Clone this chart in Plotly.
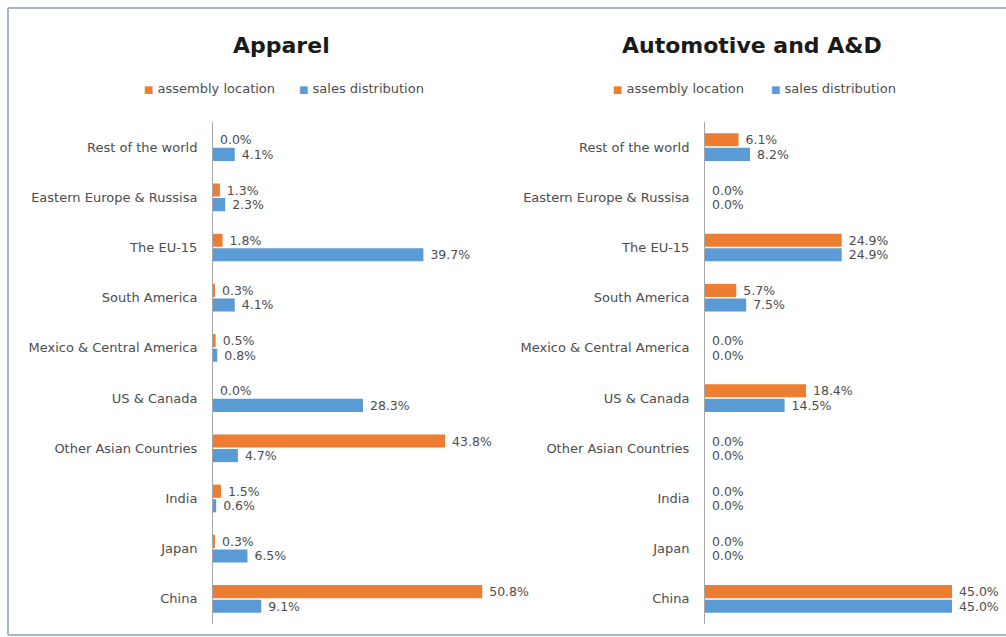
import plotly.graph_objects as go

# Regions, listed top to bottom
regions = [
    "Rest of the world",
    "Eastern Europe & Russisa",
    "The EU-15",
    "South America",
    "Mexico & Central America",
    "US & Canada",
    "Other Asian Countries",
    "India",
    "Japan",
    "China",
]

# Apparel (%)
apparel_assembly = [0.0, 1.3, 1.8, 0.3, 0.5, 0.0, 43.8, 1.5, 0.3, 50.8]
apparel_sales = [4.1, 2.3, 39.7, 4.1, 0.8, 28.3, 4.7, 0.6, 6.5, 9.1]

# Automotive and A&D (%)
auto_assembly = [6.1, 0.0, 24.9, 5.7, 0.0, 18.4, 0.0, 0.0, 0.0, 45.0]
auto_sales = [8.2, 0.0, 24.9, 7.5, 0.0, 14.5, 0.0, 0.0, 0.0, 45.0]

panel_titles = ["Apparel", "Automotive and A&D"]
series_names = ["assembly location", "sales distribution"]

ORANGE = "#ED7D31"
BLUE = "#5B9BD5"
TEXT = "#4d4d4d"
FONT = "DejaVu Sans"

W, H = 1006, 637


def px_x(p):
    return p / W


def px_y(p):
    return 1 - p / H


fig = go.Figure()

panels = [
    (apparel_assembly, apparel_sales, "x", "y"),
    (auto_assembly, auto_sales, "x2", "y2"),
]
for assembly, sales, xa, ya in panels:
    for name, vals, color in ((series_names[0], assembly, ORANGE),
                              (series_names[1], sales, BLUE)):
        fig.add_trace(go.Bar(
            y=regions, x=vals, orientation="h", name=name,
            marker=dict(color=color, line=dict(width=0)),
            texttemplate=" %{x:.1f}%", textposition="outside",
            textfont=dict(family=FONT, size=12.5, color=TEXT),
            constraintext="none", cliponaxis=False,
            xaxis=xa, yaxis=ya, showlegend=False, hoverinfo="skip",
        ))

y_dom = [px_y(624), px_y(122)]
yaxis_common = dict(
    type="category", categoryorder="array", categoryarray=regions,
    autorange="reversed", domain=y_dom,
    showline=True, linecolor="#A6A6A6", linewidth=1,
    showgrid=False, ticks="", ticklen=0, zeroline=False,
    ticklabelstandoff=12,
    tickfont=dict(family=FONT, size=13, color=TEXT),
)
xaxis_common = dict(showgrid=False, zeroline=False, showticklabels=False,
                    showline=False, ticks="")

fig.update_layout(
    width=W, height=H,
    margin=dict(l=0, r=0, t=0, b=0),
    paper_bgcolor="white", plot_bgcolor="white",
    barmode="group", bargap=0.42, bargroupgap=0.1,
    xaxis=dict(domain=[px_x(213), px_x(213 + 5.3 * 55)], range=[0, 55],
               anchor="y", **xaxis_common),
    yaxis=dict(anchor="x", **yaxis_common),
    xaxis2=dict(domain=[px_x(705), px_x(705 + 5.49 * 50)], range=[0, 50],
                anchor="y2", **xaxis_common),
    yaxis2=dict(anchor="x2", **yaxis_common),
    showlegend=False,
)

# Panel titles
for title, cx in zip(panel_titles, (281, 752)):
    fig.add_annotation(
        text=f"<b>{title}</b>", x=px_x(cx), y=px_y(45),
        xref="paper", yref="paper", xanchor="center", yanchor="middle",
        showarrow=False, font=dict(family=FONT, size=22, color="#1a1a1a"),
    )

# Series keys above each panel
key_positions = [(142, 297), (611, 769)]
for starts in key_positions:
    for name, color, x0 in zip(series_names, (ORANGE, BLUE), starts):
        fig.add_annotation(
            text=f'<span style="color:{color};font-size:10px">■</span> {name}',
            x=px_x(x0), y=px_y(88), xref="paper", yref="paper",
            xanchor="left", yanchor="middle", showarrow=False,
            font=dict(family=FONT, size=13, color=TEXT),
        )

# Outer frame
frame = "#A3B7C9"
for x0, y0, x1, y1 in ((8, 8, 1006, 8), (8, 8, 8, 635), (8, 635, 1006, 635)):
    fig.add_shape(type="line", xref="paper", yref="paper",
                  x0=px_x(x0), y0=px_y(y0), x1=px_x(x1), y1=px_y(y1),
                  line=dict(color=frame, width=2))

fig.write_html("out.html")
